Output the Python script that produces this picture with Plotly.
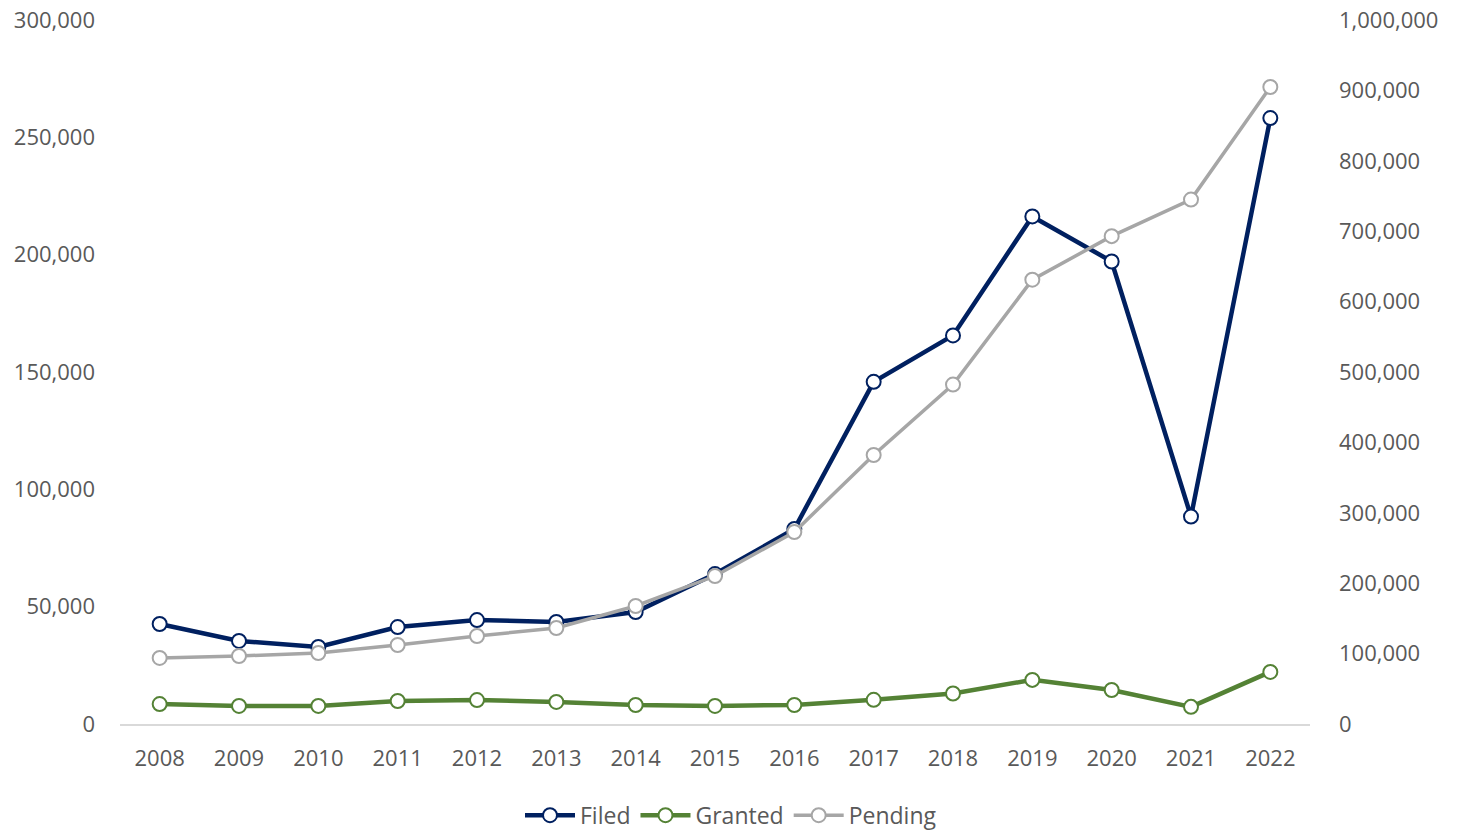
import plotly.graph_objects as go

years = ["2008", "2009", "2010", "2011", "2012", "2013", "2014", "2015",
         "2016", "2017", "2018", "2019", "2020", "2021", "2022"]

filed = [42600, 35400, 32800, 41300, 44300, 43500, 47700, 63900,
         83100, 145800, 165600, 216300, 197100, 88400, 258200]
granted = [8500, 7700, 7700, 9800, 10200, 9400, 8100, 7700,
           8100, 10300, 13000, 18800, 14500, 7300, 22200]
pending = [93800, 96600, 100900, 112200, 125000, 136400, 167600, 210200,
           272700, 382100, 482100, 631200, 693000, 744900, 904800]

left_ticks = [0, 50000, 100000, 150000, 200000, 250000, 300000]
right_ticks = [0, 100000, 200000, 300000, 400000, 500000,
               600000, 700000, 800000, 900000, 1000000]

FONT = "Open Sans"
TICK_COLOR = "#595959"
TICK_SIZE = 22


def series(name, values, color, width, axis):
    return go.Scatter(
        x=years, y=values, name=name, yaxis=axis,
        mode="lines+markers",
        line=dict(color=color, width=width),
        marker=dict(symbol="circle", size=14, color="white",
                    line=dict(color=color, width=2)),
    )


fig = go.Figure()
fig.add_trace(series("Filed", filed, "#002060", 4.5, "y"))
fig.add_trace(series("Granted", granted, "#548235", 4.5, "y"))
fig.add_trace(series("Pending", pending, "#a6a6a6", 3.5, "y2"))

fig.update_layout(
    width=1462, height=831,
    margin=dict(l=120, r=152, t=20, b=107, autoexpand=False),
    paper_bgcolor="white", plot_bgcolor="white",
    font=dict(family=FONT, color=TICK_COLOR, size=TICK_SIZE),
    xaxis=dict(
        type="category", range=[-0.5, 14.5], automargin=False,
        showgrid=False, zeroline=False,
        showline=True, linecolor="#d9d9d9", linewidth=2,
        ticks="", ticklabelstandoff=14,
        tickfont=dict(size=TICK_SIZE, color=TICK_COLOR),
    ),
    yaxis=dict(
        range=[0, 300000], tickvals=left_ticks, automargin=False,
        tickformat=",d", showgrid=False, zeroline=False,
        showline=False, ticks="", ticklabelstandoff=24,
        ticklabeloverflow="allow",
        tickfont=dict(size=TICK_SIZE, color=TICK_COLOR),
    ),
    yaxis2=dict(
        range=[0, 1000000], tickvals=right_ticks, automargin=False,
        tickformat=",d", overlaying="y", side="right",
        showgrid=False, zeroline=False, showline=False,
        ticks="", ticklabelstandoff=28,
        ticklabeloverflow="allow",
        tickfont=dict(size=TICK_SIZE, color=TICK_COLOR),
    ),
    legend=dict(
        orientation="h", xref="container", yref="container",
        x=0.5, xanchor="center", y=0.019, yanchor="middle",
        font=dict(size=23, color=TICK_COLOR),
        itemwidth=50, traceorder="normal",
    ),
    showlegend=True,
)

fig.write_html("out.html")
